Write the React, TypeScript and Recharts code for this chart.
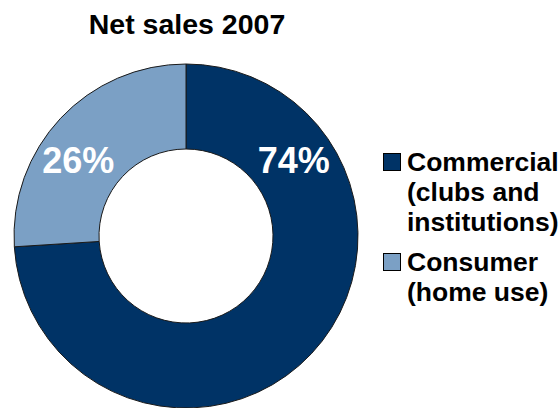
import { Cell, Legend, Pie, PieChart } from "recharts";

const title = "Net sales 2007";
const segments = ["Commercial", "Consumer"];
const shares = [74, 26];
const legendLines = [
  ["Commercial", "(clubs and", "institutions)"],
  ["Consumer", "(home use)"],
];
const colors = ["#003366", "#7BA0C5"];

const data = segments.map((name, i) => ({ name, value: shares[i], lines: legendLines[i] }));

const FONT = '"Liberation Sans", Arial, sans-serif';
const RAD = Math.PI / 180;

// labels sit in the upper half of the ring, one on each side
const renderLabel = (props: any) => {
  const { cx, cy, innerRadius, outerRadius, midAngle, value } = props;
  const r = (innerRadius + outerRadius) / 2 + 2;
  const side = Math.cos(-midAngle * RAD) >= 0 ? 1 : -1;
  const ang = 35 * RAD;
  const x = cx + side * r * Math.cos(ang);
  const y = cy - r * Math.sin(ang);
  return (
    <text
      x={x}
      y={y}
      fill="#fff"
      textAnchor="middle"
      dominantBaseline="central"
      fontFamily={FONT}
      fontWeight="bold"
      fontSize={36}
    >
      {`${value}%`}
    </text>
  );
};

const renderLegend = () => (
  <div style={{ fontFamily: FONT, fontWeight: "bold", fontSize: 26.5, lineHeight: "30px", color: "#000" }}>
    {data.map((d, i) => (
      <div key={d.name} style={{ display: "flex", marginBottom: 10 }}>
        <div
          style={{
            width: 16,
            height: 16,
            marginTop: 6,
            marginRight: 6,
            background: colors[i],
            border: "1px solid #000",
            flex: "none",
          }}
        />
        <div>
          {d.lines.map((l) => (
            <div key={l} style={{ whiteSpace: "nowrap" }}>
              {l}
            </div>
          ))}
        </div>
      </div>
    ))}
  </div>
);

export default function App() {
  return (
    <div style={{ position: "absolute", left: 0, top: 0, width: 560, height: 408, background: "#fff" }}>
      <div
        style={{
          position: "absolute",
          left: 0,
          top: 8,
          width: 374,
          textAlign: "center",
          fontFamily: FONT,
          fontWeight: "bold",
          fontSize: 28.5,
          lineHeight: "32px",
        }}
      >
        {title}
      </div>
      <PieChart width={560} height={408} margin={{ top: 0, right: 0, bottom: 0, left: 0 }}>
        <Pie
          data={data}
          dataKey="value"
          nameKey="name"
          cx={186}
          cy={236}
          outerRadius={172}
          innerRadius={87}
          startAngle={90}
          endAngle={-270}
          stroke="#1a1a1a"
          strokeWidth={1}
          label={renderLabel}
          labelLine={false}
          isAnimationActive={false}
        >
          {data.map((d, i) => (
            <Cell key={d.name} fill={colors[i]} />
          ))}
        </Pie>
        <Legend content={renderLegend} wrapperStyle={{ left: 383, top: 147, width: 177 }} />
      </PieChart>
    </div>
  );
}
